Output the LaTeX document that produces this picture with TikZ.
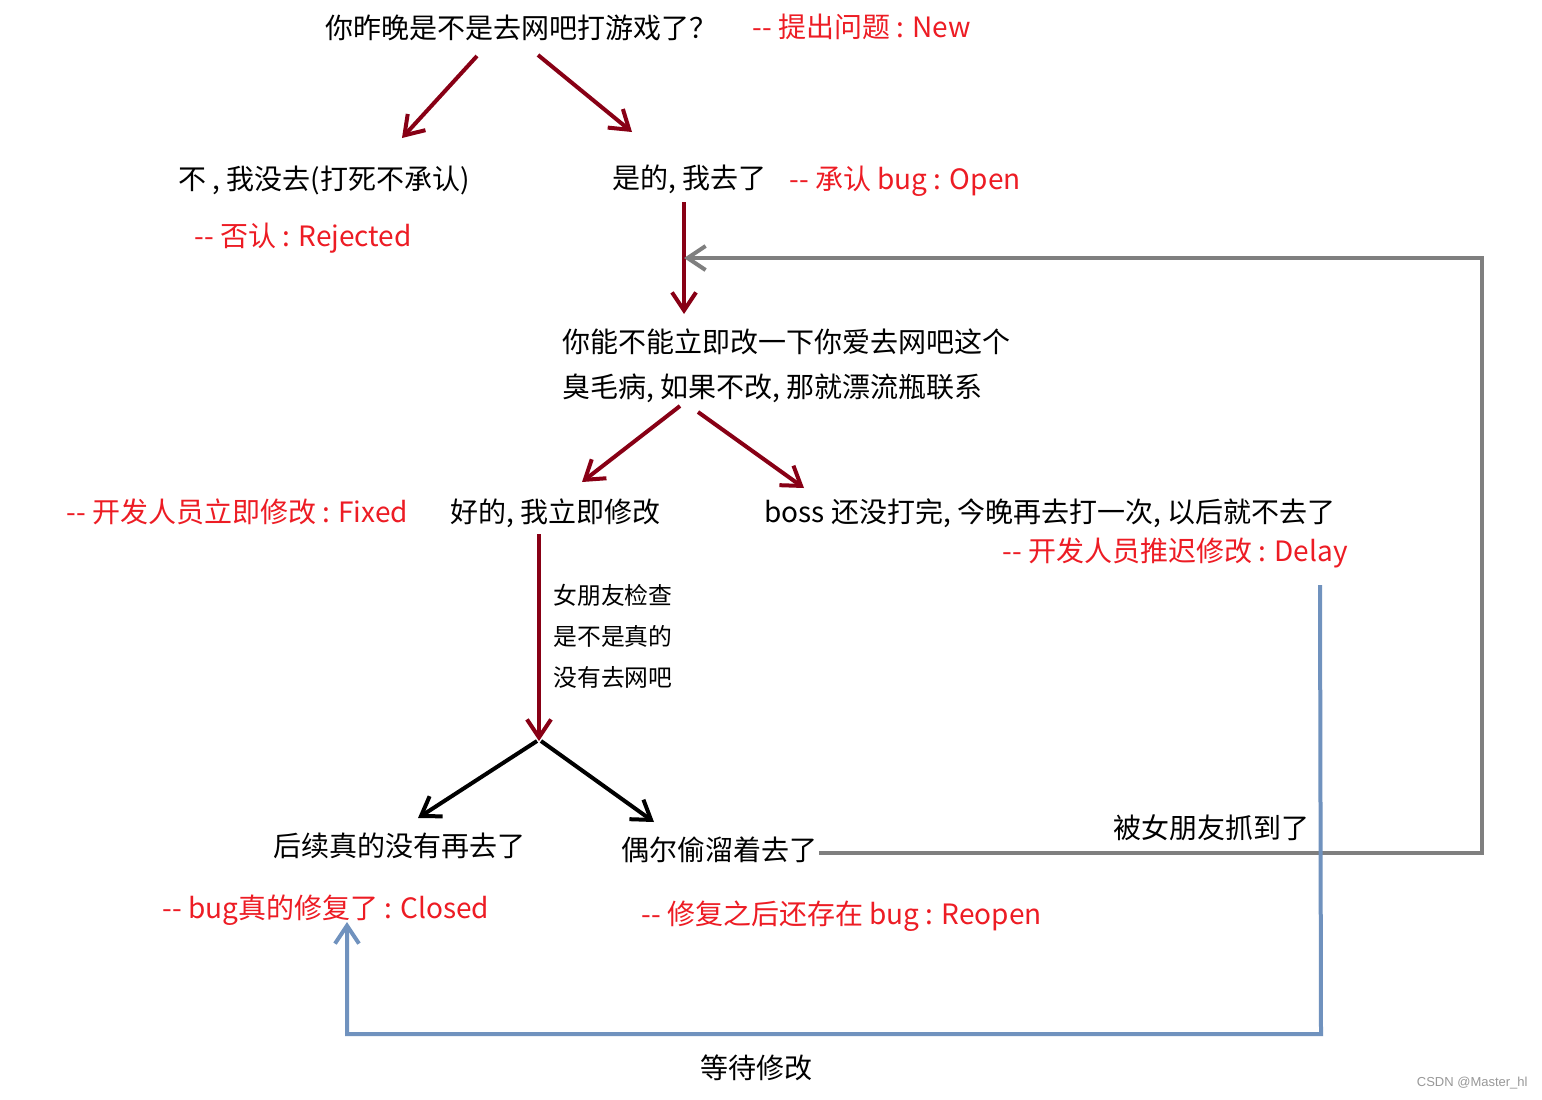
\documentclass[tikz,border=0pt]{standalone}
\usepackage{fontspec}
\setmainfont{Noto Sans CJK SC}
\newfontfamily\wmfont{Liberation Sans}
\usetikzlibrary{arrows.meta}
\definecolor{dred}{RGB}{136,0,21}
\definecolor{lred}{RGB}{237,28,36}
\definecolor{pgray}{RGB}{127,127,127}
\definecolor{pblue}{RGB}{112,146,190}
\newcommand{\dd}{-{}-}
\begin{document}
\begin{tikzpicture}[x=0.5pt,y=-0.5pt,
  txt/.style={inner sep=0pt,anchor=west,font=\fontsize{14}{16}\selectfont},
  lbl/.style={txt,text=lred},
  smalltxt/.style={inner sep=0pt,anchor=west,align=left,font=\fontsize{11.9}{20.5}\selectfont},
  tip/.style={-{Straight Barb[length=9pt,width=12pt]}},
  arr/.style={line width=2pt,tip},
  redarr/.style={arr,draw=dred},
  blackarr/.style={arr,draw=black},
  grayline/.style={line width=2pt,draw=pgray},
  blueline/.style={line width=2pt,draw=pblue}]
\useasboundingbox (0,0) rectangle (1542,1099);
\fill[white] (0,0) rectangle (1542,1099);

% texts
\node[txt] (q) at (325,28) {你昨晚是不是去网吧打游戏了？};
\node[lbl] (new) at (752,27) {\dd{} 提出问题 : New};
\node[txt] (no) at (178,180) {不 , 我没去(打死不承认)};
\node[lbl] (rej) at (194,238) {\dd{} 否认 : Rejected};
\node[txt] (yes) at (612,179) {是的, 我去了};
\node[lbl] (open) at (789,181) {\dd{} 承认 bug : Open};
\node[txt] (ask1) at (562,342) {你能不能立即改一下你爱去网吧这个};
\node[txt] (ask2) at (562,388) {臭毛病, 如果不改, 那就漂流瓶联系};
\node[lbl] (fixed) at (66,512) {\dd{} 开发人员立即修改 : Fixed};
\node[txt] (ok) at (450,513) {好的, 我立即修改};
\node[txt] (boss) at (764,513) {boss 还没打完, 今晚再去打一次, 以后就不去了};
\node[lbl,anchor=east] (delay) at (1348,553) {\dd{} 开发人员推迟修改 : Delay};
\node[smalltxt] (check) at (553,636) {女朋友检查\\是不是真的\\没有去网吧};
\node[txt] (never) at (273,846) {后续真的没有再去了};
\node[txt] (sneak) at (621,850) {偶尔偷溜着去了};
\node[txt] (caught) at (1113,828) {被女朋友抓到了};
\node[lbl] (closed) at (162,910) {\dd{} bug真的修复了 : Closed};
\node[lbl] (reopen) at (641,916) {\dd{} 修复之后还存在 bug : Reopen};
\node[txt,anchor=center] (wait) at (756,1068) {等待修改};
\node[inner sep=0pt,anchor=east,text=pgray!80,font=\wmfont\fontsize{6.5}{8}\selectfont] (wm) at (1528,1083) {CSDN @Master\_hl};

% connector end points
\coordinate (qL) at (477,56);
\coordinate (noT) at (402,138);
\coordinate (qR) at (538,55);
\coordinate (yesT) at (632,132);
\coordinate (yesB) at (684,202);
\coordinate (askT) at (684,314);
\coordinate (askL) at (680,406);
\coordinate (okT) at (582,482);
\coordinate (askR) at (698,412);
\coordinate (bossT) at (804,488);
\coordinate (okB) at (539,534);
\coordinate (fork) at (539,741);
\coordinate (neverT) at (418,818);
\coordinate (sneakT) at (654,822);
\coordinate (grayS) at (819,853);
\coordinate (grayTR) at (1482,853);
\coordinate (grayTop) at (1482,258);
\coordinate (grayEnd) at (684,258);
\coordinate (blueTop) at (1320,585);
\coordinate (blueBR) at (1321,1034);
\coordinate (blueBL) at (347,1034);
\coordinate (closedB) at (347,922);

% connectors
\draw[redarr] (qL) -- (noT);
\draw[redarr] (qR) -- (yesT);
\draw[redarr] (yesB) -- (askT);
\draw[redarr] (askL) -- (okT);
\draw[redarr] (askR) -- (bossT);
\draw[redarr] (okB) -- (fork);
\draw[blackarr] ([xshift=-1]fork) -- (neverT);
\draw[blackarr] ([xshift=1]fork) -- (sneakT);
\draw[grayline,tip] (grayS) -- (grayTR) -- (grayTop) -- (grayEnd);
\draw[blueline,tip] (blueTop) -- (blueBR) -- (blueBL) -- (closedB);
\end{tikzpicture}
\end{document}
